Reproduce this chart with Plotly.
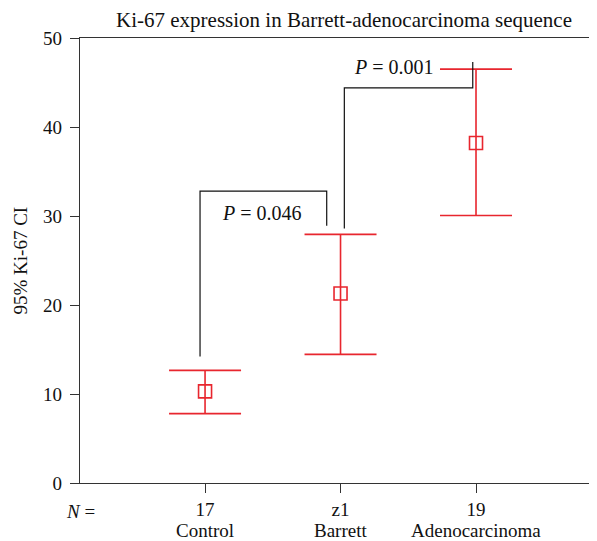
import plotly.graph_objects as go

categories = ["Control", "Barrett", "Adenocarcinoma"]
n_labels = ["17", "z1", "19"]
x_pos = [1, 2, 3]
means = [10.3, 21.3, 38.2]
ci_low = [7.8, 14.45, 30.06]
ci_high = [12.65, 27.93, 46.5]

# significance brackets: (x_left, x_right, y_left_bottom, y_top, y_right_bottom, label, label_x, label_y)
brackets = [
    (0.963, 1.898, 14.2, 32.8, 28.9, "<i>P</i> = 0.046", 1.417, 30.3),
    (2.028, 2.976, 28.6, 44.4, 47.3, "<i>P</i> = 0.001", 2.395, 46.75),
]

RED = "#e8262e"
AX = "#333333"
TXT = "#111111"
FONT = "Liberation Serif"

fig = go.Figure()
fig.add_trace(go.Scatter(
    x=x_pos, y=means, mode="markers",
    marker=dict(symbol="square-open", size=13, color=RED, line=dict(width=1.6, color=RED)),
    error_y=dict(type="data", symmetric=False,
                 array=[h - m for h, m in zip(ci_high, means)],
                 arrayminus=[m - l for m, l in zip(means, ci_low)],
                 color=RED, thickness=1.6, width=36),
    showlegend=False, hoverinfo="skip",
))

shapes = []
annotations = []
for xl, xr, yl, yt, yr, lab, lx, ly in brackets:
    shapes.append(dict(type="path", xref="x", yref="y",
                       path=f"M {xl},{yl} L {xl},{yt} L {xr},{yt} L {xr},{yr}",
                       line=dict(color=TXT, width=1.2)))
    annotations.append(dict(x=lx, y=ly, xref="x", yref="y", text=lab, showarrow=False,
                            font=dict(family=FONT, size=20, color=TXT)))

# category names under the N values
for xp, c in zip(x_pos, categories):
    annotations.append(dict(x=xp, y=0, xref="x", yref="paper", yanchor="middle", yshift=-47,
                            text=c, showarrow=False, font=dict(family=FONT, size=19, color=TXT)))

annotations.append(dict(x=0.51, y=1, xref="paper", yref="paper", yanchor="middle", yshift=18,
                        text="Ki-67 expression in Barrett-adenocarcinoma sequence", showarrow=False,
                        font=dict(family=FONT, size=21, color=TXT)))
annotations.append(dict(x=0, y=0, xref="paper", yref="paper", yanchor="middle", xanchor="center",
                        yshift=-28, text="<i>N</i> =", showarrow=False,
                        font=dict(family=FONT, size=19, color=TXT)))
annotations.append(dict(x=0, y=0.5, xref="paper", yref="paper", xanchor="center", yanchor="middle",
                        xshift=-60, textangle=-90, text="95% Ki-67 CI", showarrow=False,
                        font=dict(family=FONT, size=19, color=TXT)))

fig.update_layout(
    width=589, height=533,
    margin=dict(l=72, r=0, t=30, b=58, autoexpand=False),
    paper_bgcolor="white", plot_bgcolor="white",
    font=dict(family=FONT, size=19, color=TXT),
    shapes=shapes, annotations=annotations,
    xaxis=dict(range=[0.077, 3.893], tickvals=x_pos, ticktext=n_labels,
               showline=True, linecolor=AX, linewidth=1.4, mirror=True,
               ticks="outside", ticklen=9, tickcolor=AX, tickwidth=1.2,
               showgrid=False, zeroline=False, tickfont=dict(family=FONT, size=19)),
    yaxis=dict(range=[0, 50], tickvals=[0, 10, 20, 30, 40, 50],
               showline=True, linecolor=AX, linewidth=1.4,
               ticks="outside", ticklen=9, tickcolor=AX, tickwidth=1.2, ticklabelstandoff=4,
               showgrid=False, zeroline=False, tickfont=dict(family=FONT, size=19)),
)

fig.write_html("out.html")
